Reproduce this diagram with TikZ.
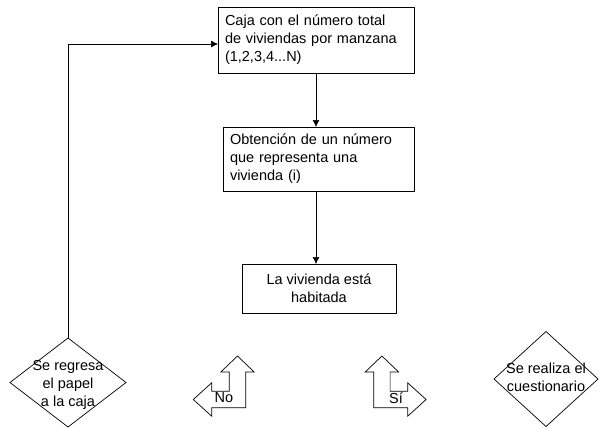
\documentclass[tikz,border=0pt]{standalone}
\usepackage{fontspec}
\setmainfont{Liberation Sans}
\usepackage{tikz}
\usetikzlibrary{shapes.geometric}
\usetikzlibrary{positioning}
\usetikzlibrary{arrows.meta}

\begin{document}
\begin{tikzpicture}[x=1pt,y=-1pt,line width=0.7pt,
caja/.style={draw,rectangle,inner sep=0,outer sep=0,
             font=\fontsize{14.5}{18}\selectfont},
rombo/.style={draw,diamond,inner sep=0,outer sep=0},
texto/.style={font=\fontsize{14.5}{18}\selectfont,align=center,inner sep=0},
flecha/.style={-{Latex[length=7pt,width=7pt]}}]
\useasboundingbox (0,0) rectangle (600,428);
\node[caja,minimum width=196pt,minimum height=66pt,text width=182pt,align=left] (caja) at (316,40) {Caja con el número total\\de viviendas por manzana\\(1,2,3,4...N)};
\node[caja,minimum width=191pt,minimum height=64pt,text width=177pt,align=left] (obtencion) at (318.5,159) {Obtención de un número\\que representa una\\vivienda (i)};
\node[caja,minimum width=154pt,minimum height=49pt,align=center] (habitada) at (319,288.5) {La vivienda está\\habitada};
%==================
\draw[flecha] (caja.south) -- (caja.south |- obtencion.north);
\draw[flecha] (obtencion.south -| caja.south) -- (caja.south |- habitada.north);
%==================
\node[rombo,minimum width=116pt,minimum height=89pt] (regresa) at (68,382.5) {};
\node[texto] (regresa texto) at (68,384.5) {Se regresa\\el papel\\a la caja};
\node[rombo,minimum width=104pt,minimum height=95pt] (cuestionario) at (546,379) {};
\node[texto] (cuestionario texto) at (546,377.5) {Se realiza el\\cuestionario};
\draw[flecha] (regresa.north) |- ([yshift=-4pt]caja.west);
% ===================
\foreach \px/\s in {237.5/1,381.9/-1}{
\draw[shift={(\px,399.5)},xscale=\s] (0,-43.5) -- (16.7,-27.5) -- (8.2,-27.5) -- (8.2,8.2) -- (-25.8,8.2) -- (-25.8,16.7) -- (-44.2,0) -- (-25.8,-16.7) -- (-25.8,-8.2) -- (-8.2,-8.2) -- (-8.2,-27.5) -- (-16.7,-27.5) -- cycle;
}
\node[texto] (no) at (224,398) {No};
\node[texto] (si) at (396,398) {Sí};
\end{tikzpicture}
\end{document}
